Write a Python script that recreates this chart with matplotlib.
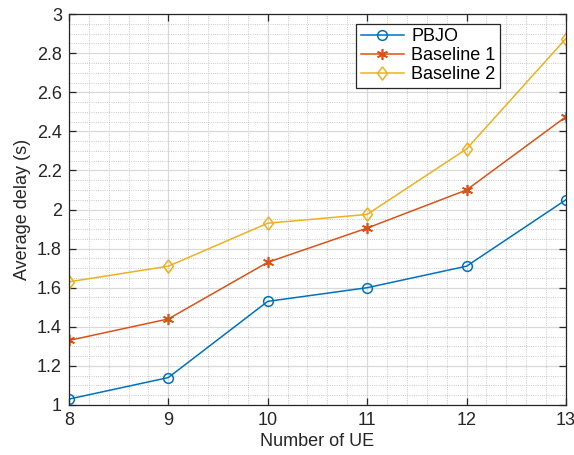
import matplotlib.pyplot as plt
from matplotlib.ticker import MultipleLocator, FuncFormatter

plt.rcParams['font.family'] = ['Liberation Sans', 'DejaVu Sans']

num_ue = [8, 9, 10, 11, 12, 13]
pbjo = [1.03, 1.14, 1.53, 1.60, 1.71, 2.05]
baseline1 = [1.33, 1.44, 1.73, 1.905, 2.10, 2.475]
baseline2 = [1.63, 1.71, 1.93, 1.975, 2.31, 2.875]

c_blue = (0, 0.447, 0.741)
c_red = (0.85, 0.325, 0.098)
c_yel = (0.929, 0.694, 0.125)
ax_col = (0.15, 0.15, 0.15)

# MATLAB-style diamond (a bit taller than wide)
diamond = [(0, 1), (0.75, 0), (0, -1), (-0.75, 0), (0, 1)]

fig = plt.figure(figsize=(5.74, 4.55), dpi=100)
ax = fig.add_axes([0.120, 0.110, 0.866, 0.859])

ax.plot(num_ue, pbjo, color=c_blue, lw=1.1, marker='o', ms=7,
        mfc='none', mew=1.1, label='PBJO')
ax.plot(num_ue, baseline1, color=c_red, lw=1.1, marker=(6, 2, 0), ms=8,
        mew=1.2, label='Baseline 1')
ax.plot(num_ue, baseline2, color=c_yel, lw=1.1, marker=diamond, ms=9.5,
        mfc='none', mew=1.1, label='Baseline 2')

ax.set_xlim(8, 13)
ax.set_ylim(1, 3)
ax.xaxis.set_major_locator(MultipleLocator(1))
ax.xaxis.set_minor_locator(MultipleLocator(0.2))
ax.yaxis.set_major_locator(MultipleLocator(0.2))
ax.yaxis.set_minor_locator(MultipleLocator(0.05))
ax.yaxis.set_major_formatter(FuncFormatter(lambda v, p: f'{round(v, 2):g}'))

ax.grid(which='major', color=(0.85, 0.85, 0.85), lw=0.9, ls='-')
ax.grid(which='minor', color=(0.72, 0.72, 0.72), lw=0.6, ls=':')
ax.set_axisbelow(True)

ax.tick_params(which='both', direction='in', top=True, right=True,
               colors=ax_col, labelsize=13)
ax.tick_params(which='major', length=5, width=0.9, pad=5)
ax.tick_params(which='minor', length=0)
for s in ax.spines.values():
    s.set_color(ax_col)
    s.set_linewidth(0.9)

ax.set_xlabel('Number of UE', fontsize=13, color=ax_col, labelpad=3)
ax.set_ylabel('Average delay (s)', fontsize=13, color=ax_col, labelpad=4)

leg = ax.legend(loc='upper right', bbox_to_anchor=(0.867, 0.975),
                fontsize=13, frameon=True, fancybox=False, borderpad=0.25,
                labelspacing=0.1, handlelength=2.4, handletextpad=0.4,
                borderaxespad=0)
leg.get_frame().set_edgecolor(ax_col)
leg.get_frame().set_linewidth(0.9)
leg.get_frame().set_alpha(1)

fig.savefig('out.png', dpi=100)
